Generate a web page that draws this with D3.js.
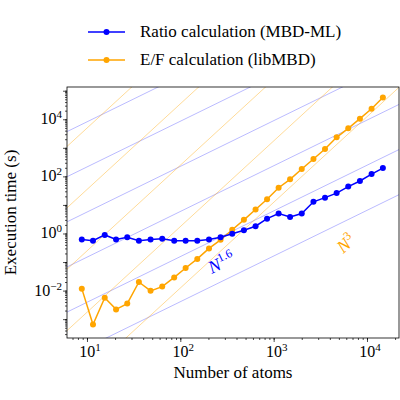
<!DOCTYPE html>
<html>
<head>
<meta charset="utf-8">
<script src="https://cdn.jsdelivr.net/npm/d3@7"></script>
<style>
body { margin: 0; background: #fff; }
text { font-family: "Liberation Serif", "DejaVu Serif", serif; }
</style>
</head>
<body>
<script>
// atoms (x), timings (y)
const atoms = [8.8, 11.6, 15.5, 20.5, 27, 36, 48, 64, 86, 114, 152, 203, 270, 360, 480, 640, 850, 1130, 1500, 2000, 2670, 3550, 4730, 6300, 8400, 11200, 14800];
const ratioTimes = [0.62, 0.56, 0.89, 0.62, 0.74, 0.56, 0.62, 0.66, 0.56, 0.56, 0.56, 0.62, 0.74, 0.98, 1.3, 1.8, 3.3, 5, 3.8, 5, 12.9, 18, 26, 44, 69, 120, 195];
const efTimes = [0.0117, 0.00065, 0.0056, 0.0022, 0.0035, 0.02, 0.0098, 0.0138, 0.029, 0.062, 0.129, 0.30, 0.60, 1.35, 3.0, 6.9, 15.8, 40, 79, 182, 407, 912, 2340, 4800, 10500, 23400, 57500];
// guide lines: log10(y) = k*log10(x) + offset
const blueSlope = 1.6, blueOffsets = [-5.59, -4.01, -2.43, -0.85, 0.73, 2.31, 3.89];
const orangeSlope = 3, orangeOffsets = [-7.91, -5.76, -3.61, -1.46, 0.69, 2.84];
const xTicks = [10, 100, 1000, 10000];
const yTicks = [1e-2, 1, 1e2, 1e4];

const W = 400, H = 400;
const m = {left: 67, right: 399, top: 87, bottom: 338};
const svg = d3.select("body").append("svg").attr("width", W).attr("height", H);

const x = d3.scaleLog().domain([Math.pow(10, 0.786), Math.pow(10, 4.343)]).range([m.left, m.right]);
const y = d3.scaleLog().domain([Math.pow(10, -3.66), Math.pow(10, 5.13)]).range([m.bottom, m.top]);

svg.append("clipPath").attr("id", "clip").append("rect")
  .attr("x", m.left).attr("y", m.top).attr("width", m.right - m.left).attr("height", m.bottom - m.top);

const g = svg.append("g").attr("clip-path", "url(#clip)");
const xd = x.domain();
function guide(slope, offs, color, op) {
  offs.forEach(function(o) {
    const pts = xd.map(function(v) { return [v, Math.pow(10, slope * Math.log10(v) + o)]; });
    g.append("line")
      .attr("x1", x(pts[0][0])).attr("y1", y(pts[0][1]))
      .attr("x2", x(pts[1][0])).attr("y2", y(pts[1][1]))
      .attr("stroke", color).attr("stroke-opacity", op).attr("stroke-width", 0.9);
  });
}
guide(blueSlope, blueOffsets, "blue", 0.3);
guide(orangeSlope, orangeOffsets, "orange", 0.45);

function series(vals, color) {
  const data = atoms.map(function(a, i) { return [a, vals[i]]; });
  g.append("path").datum(data)
    .attr("d", d3.line().x(function(d) { return x(d[0]); }).y(function(d) { return y(d[1]); }))
    .attr("fill", "none").attr("stroke", color).attr("stroke-width", 1.5);
  g.selectAll(null).data(data).enter().append("circle")
    .attr("cx", function(d) { return x(d[0]); }).attr("cy", function(d) { return y(d[1]); })
    .attr("r", 3).attr("fill", color);
}
series(efTimes, "orange");
series(ratioTimes, "blue");

// frame
svg.append("rect").attr("x", m.left).attr("y", m.top)
  .attr("width", m.right - m.left).attr("height", m.bottom - m.top)
  .attr("fill", "none").attr("stroke", "#000").attr("stroke-width", 0.8);

// axes
const xAxis = svg.append("g").attr("transform", "translate(0," + m.bottom + ")")
  .call(d3.axisBottom(x).ticks(8).tickFormat("").tickSize(2).tickSizeOuter(0));
xAxis.append("g").call(d3.axisBottom(x).tickValues(xTicks).tickFormat("").tickSize(4));
const yAxis = svg.append("g").attr("transform", "translate(" + m.left + ",0)")
  .call(d3.axisLeft(y).ticks(20).tickFormat("").tickSize(2).tickSizeOuter(0));
yAxis.append("g").call(d3.axisLeft(y).tickValues(d3.range(-3, 6).map(function(e) { return Math.pow(10, e); })).tickFormat("").tickSize(4));
svg.selectAll(".domain").remove();
svg.selectAll(".tick line").attr("stroke-width", 0.7);

function powLabel(sel, v) {
  const e = Math.round(Math.log10(v));
  sel.append("tspan").text("10");
  sel.append("tspan").attr("dy", -6).attr("font-size", 11).text(e < 0 ? "\u2212" + (-e) : e);
}
xTicks.forEach(function(v) {
  const t = svg.append("text").attr("x", x(v) + 3).attr("y", 357).attr("text-anchor", "middle").attr("font-size", 16);
  powLabel(t, v);
});
yTicks.forEach(function(v) {
  const t = svg.append("text").attr("x", 62).attr("y", y(v) + 5).attr("text-anchor", "end").attr("font-size", 16);
  powLabel(t, v);
});

svg.append("text").attr("x", (m.left + m.right) / 2).attr("y", 378).attr("text-anchor", "middle")
  .attr("font-size", 17).text("Number of atoms");
svg.append("text").attr("transform", "translate(16," + ((m.top + m.bottom) / 2) + ") rotate(-90)")
  .attr("text-anchor", "middle").attr("font-size", 17).text("Execution time (s)");

// annotations
const n16 = svg.append("text").attr("transform", "translate(224,268) rotate(-26)")
  .attr("fill", "blue").attr("font-size", 18).attr("text-anchor", "middle");
n16.append("tspan").attr("font-style", "italic").text("N");
n16.append("tspan").attr("dy", -7).attr("font-size", 12).text("1.6");
const n3 = svg.append("text").attr("transform", "translate(350,248) rotate(-42)")
  .attr("fill", "orange").attr("font-size", 18).attr("text-anchor", "middle");
n3.append("tspan").attr("font-style", "italic").text("N");
n3.append("tspan").attr("dy", -7).attr("font-size", 12).text("3");

// legend
const legend = [["Ratio calculation (MBD-ML)", "blue"], ["E/F calculation (libMBD)", "orange"]];
legend.forEach(function(l, i) {
  const yy = 32 + i * 28;
  svg.append("line").attr("x1", 88).attr("x2", 125).attr("y1", yy).attr("y2", yy).attr("stroke", l[1]).attr("stroke-width", 1.5);
  svg.append("circle").attr("cx", 106.5).attr("cy", yy).attr("r", 3).attr("fill", l[1]);
  svg.append("text").attr("x", 140).attr("y", yy + 5).attr("font-size", 17).text(l[0]);
});
</script>
</body>
</html>
